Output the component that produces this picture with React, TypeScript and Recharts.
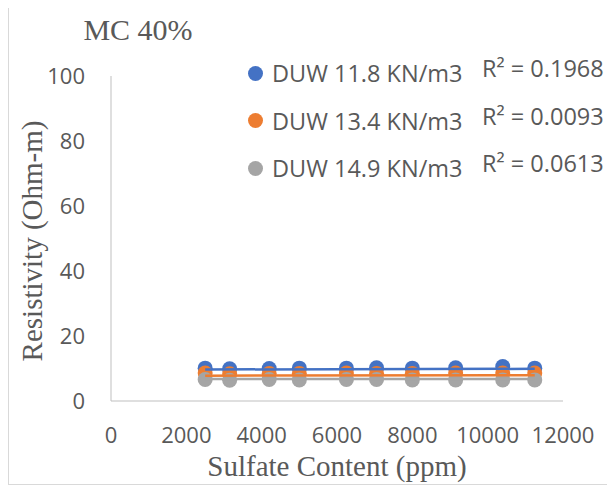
import React from "react";
import { ScatterChart, Scatter, XAxis, YAxis } from "recharts";

// sulfate content (ppm) for each specimen
const sulfate = [2500, 3150, 4200, 5000, 6250, 7050, 8000, 9150, 10400, 11250];

// resistivity (Ohm-m) per dry unit weight
const duw118 = [10.1, 9.9, 10.0, 10.1, 10.1, 10.2, 10.1, 10.2, 10.6, 10.1];
const duw134 = [8.6, 8.4, 8.5, 8.5, 8.6, 8.5, 8.5, 8.6, 8.6, 8.6];
const duw149 = [6.6, 6.4, 6.6, 6.5, 6.6, 6.6, 6.5, 6.5, 6.5, 6.5];

// linear trend end points
const trendX = [2500, 11250];
const trend118 = [9.7, 9.9];
const trend134 = [7.8, 7.9];
const trend149 = [6.8, 6.8];

const seriesNames = ["DUW 11.8 KN/m3", "DUW 13.4 KN/m3", "DUW 14.9 KN/m3"];
const rSquared = ["0.1968", "0.0093", "0.0613"];
const colors = ["#4472C4", "#ED7D31", "#A5A5A5"];

const xTicks = [0, 2000, 4000, 6000, 8000, 10000, 12000];
const yTicks = [0, 20, 40, 60, 80, 100];

const toPoints = (ys: number[]) => sulfate.map((x, i) => ({ x, y: ys[i] }));
const toTrend = (ys: number[]) => trendX.map((x, i) => ({ x, y: ys[i] }));

const pointSets = [toPoints(duw118), toPoints(duw134), toPoints(duw149)];
const trendSets = [toTrend(trend118), toTrend(trend134), toTrend(trend149)];

const sans = "'Open Sans', sans-serif";
const serif = "'Liberation Serif', 'Times New Roman', serif";

const dot = (color: string) => (props: any) =>
  <circle cx={props.cx} cy={props.cy} r={7.5} fill={color} />;

const noDot = () => <g />;

export default function App() {
  return (
    <div
      style={{
        position: "relative",
        width: 603,
        height: 478,
        border: "1px solid #d9d9d9",
        marginTop: -3,
        background: "#fff",
      }}
    >
      <ScatterChart
        width={603}
        height={478}
        margin={{ top: 70, right: 49, bottom: 0, left: 0 }}
      >
        <XAxis
          type="number"
          dataKey="x"
          domain={[0, 12000]}
          ticks={xTicks}
          height={83}
          stroke="#bfbfbf"
          tickLine={false}
          tickSize={0}
          tickMargin={26}
          tick={{ fill: "#595959", fontSize: 22, fontFamily: sans }}
          interval={0}
        />
        <YAxis
          type="number"
          dataKey="y"
          domain={[0, 100]}
          ticks={yTicks}
          width={102}
          stroke="#bfbfbf"
          tickLine={false}
          tickSize={0}
          tickMargin={26}
          tick={{ fill: "#595959", fontSize: 22, fontFamily: sans }}
        />
        {pointSets.map((data, i) => (
          <Scatter
            key={"p" + i}
            name={seriesNames[i]}
            data={data}
            fill={colors[i]}
            shape={dot(colors[i])}
            isAnimationActive={false}
          />
        ))}
        {trendSets.map((data, i) => (
          <Scatter
            key={"t" + i}
            data={data}
            line={{ stroke: colors[i], strokeWidth: 2.5 }}
            shape={noDot}
            legendType="none"
            isAnimationActive={false}
          />
        ))}
      </ScatterChart>

      {/* Title */}
      <div
        style={{
          position: "absolute",
          left: 129,
          top: 24,
          transform: "translate(-50%, -50%)",
          fontFamily: serif,
          fontSize: 30,
          color: "#595959",
          whiteSpace: "nowrap",
        }}
      >
        MC 40%
      </div>

      {/* Axis titles */}
      <div
        style={{
          position: "absolute",
          left: 23,
          top: 235,
          transform: "translate(-50%, -50%) rotate(-90deg)",
          fontFamily: serif,
          fontSize: 29,
          color: "#595959",
          whiteSpace: "nowrap",
        }}
      >
        Resistivity (Ohm-m)
      </div>
      <div
        style={{
          position: "absolute",
          left: 328,
          top: 460,
          transform: "translate(-50%, -50%)",
          fontFamily: serif,
          fontSize: 29,
          color: "#595959",
          whiteSpace: "nowrap",
        }}
      >
        Sulfate Content (ppm)
      </div>

      {/* Legend + R² labels */}
      {seriesNames.map((name, i) => (
        <React.Fragment key={name}>
          <div
            style={{
              position: "absolute",
              left: 239,
              top: 67 + i * 47.5,
              display: "flex",
              alignItems: "center",
              height: 0,
              fontFamily: sans,
              fontSize: 23.5,
              color: "#595959",
              whiteSpace: "nowrap",
            }}
          >
            <span
              style={{
                display: "inline-block",
                width: 15,
                height: 15,
                borderRadius: "50%",
                background: colors[i],
                marginRight: 9,
              }}
            />
            {name}
          </div>
          <div
            style={{
              position: "absolute",
              left: 473,
              top: 62 + i * 47.5,
              display: "flex",
              alignItems: "center",
              height: 0,
              fontFamily: sans,
              fontSize: 23.5,
              color: "#595959",
              whiteSpace: "nowrap",
            }}
          >
            R² = {rSquared[i]}
          </div>
        </React.Fragment>
      ))}
    </div>
  );
}
